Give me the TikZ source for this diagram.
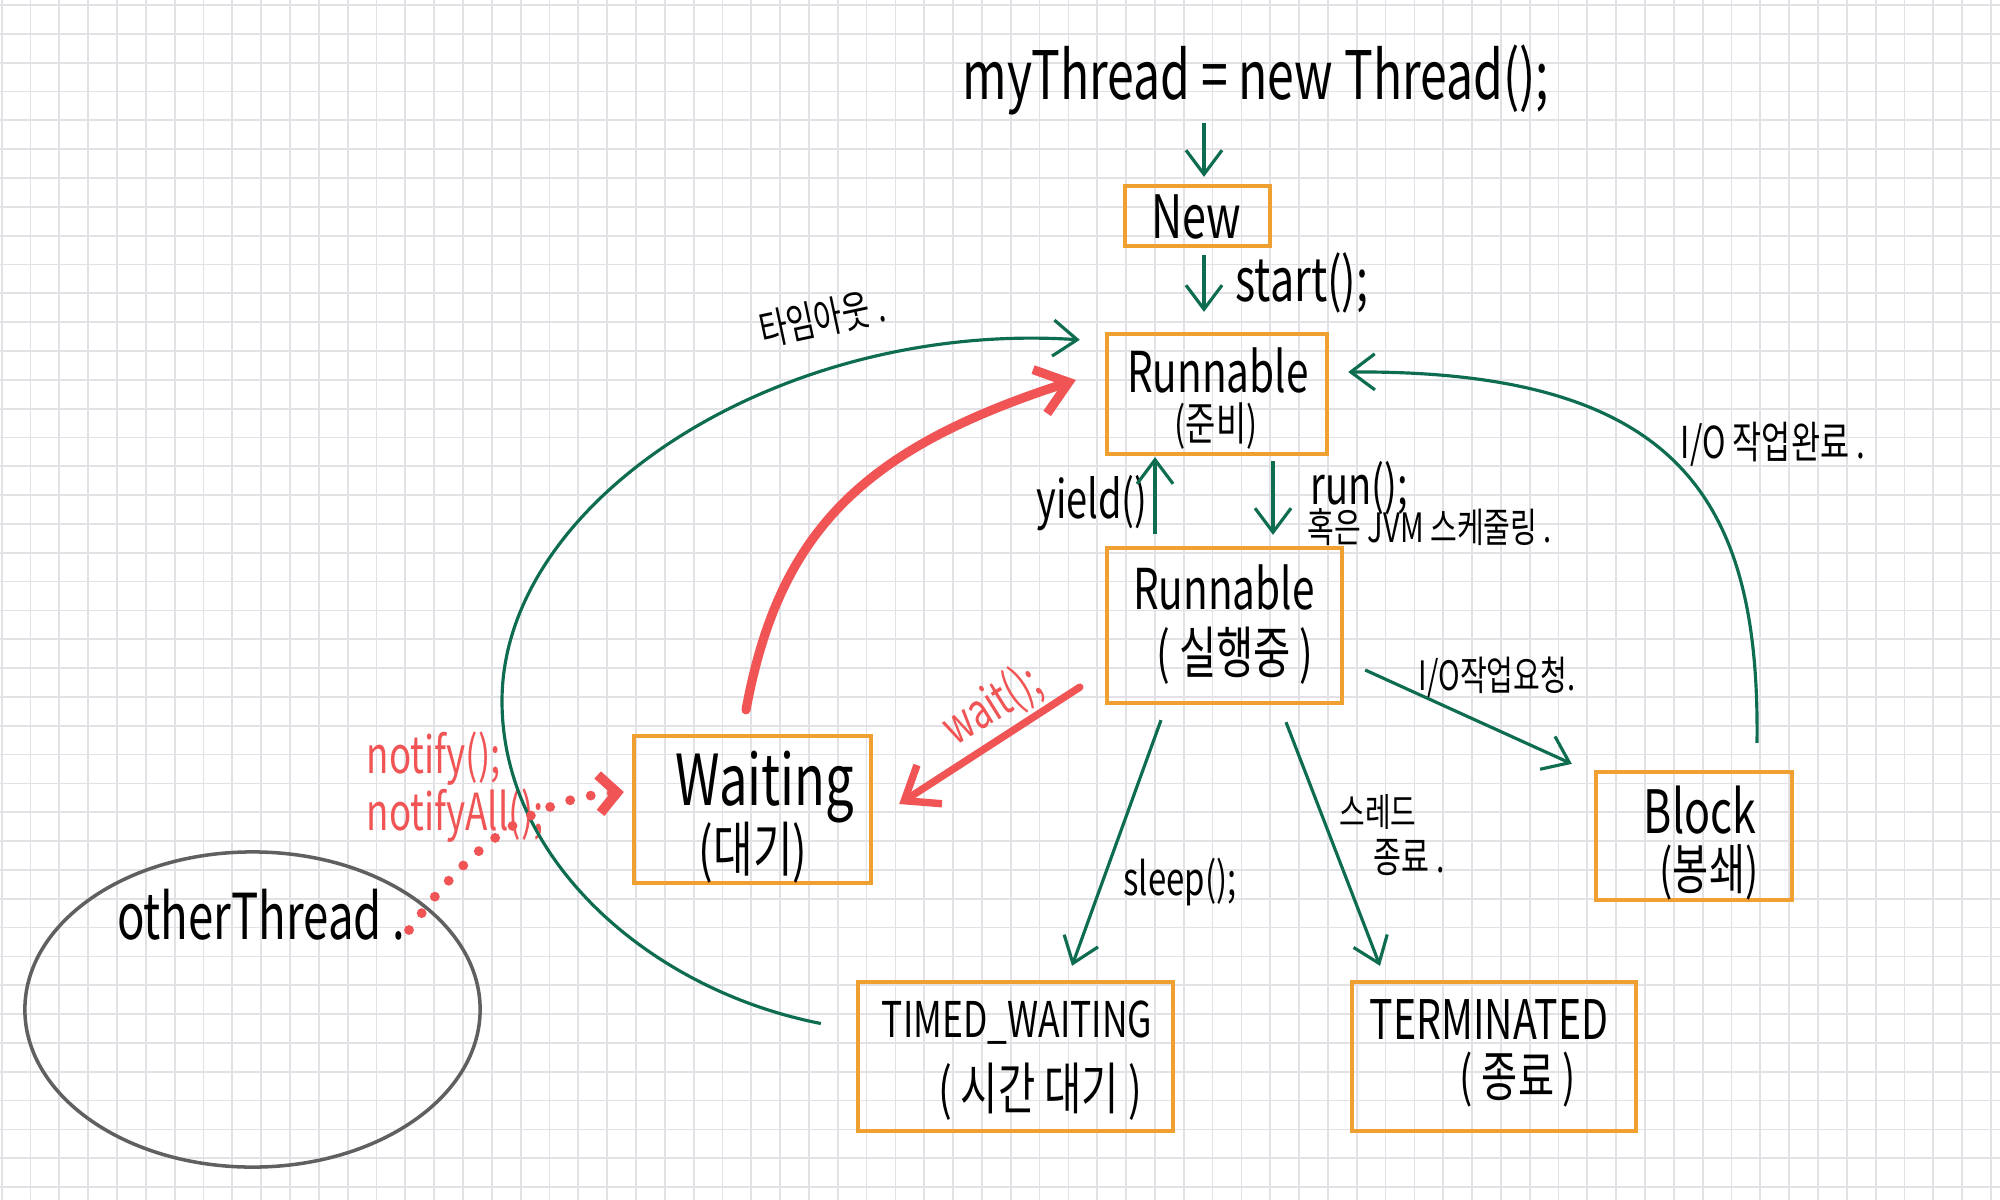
\documentclass[tikz,border=0pt]{standalone}
\usepackage{fontspec}
\setmainfont{Noto Sans CJK KR}[FakeStretch=0.72]
\usetikzlibrary{arrows.meta,calc,shapes.geometric}
\definecolor{cgreen}{RGB}{14,108,80}
\definecolor{corange}{RGB}{240,160,48}
\definecolor{cred}{RGB}{240,84,84}
\definecolor{cgray}{RGB}{96,96,96}
\definecolor{cgrid}{RGB}{226,226,230}
\newcommand{\hsz}[1]{\fontsize{#1}{#1}\selectfont}
\begin{document}
\begin{tikzpicture}[x=0.01cm,y=-0.01cm,
  gridline/.style={draw=cgrid,line width=0.5pt},
  statebox/.style={draw=corange,line width=1.2pt,inner sep=0pt,rectangle},
  lbl/.style={inner sep=0pt,text=black},
  garrow/.style={draw=cgreen,line width=0.9pt,-{Straight Barb[length=2.4mm,width=3.6mm]}},
  rthick/.style={draw=cred,line width=2.6pt,line cap=round,-{Straight Barb[length=3mm,width=4.6mm]}},
  rdotted/.style={draw=cred,line width=2.8pt,line cap=round,dash pattern=on 0pt off 6pt,-{Straight Barb[length=1.8mm,width=3.8mm]}},
]
\useasboundingbox (0,0) rectangle (2000,1200);
\fill[white] (0,0) rectangle (2000,1200);
\foreach \k in {0,...,69} \draw[gridline] ({1.7+28.83*\k},0) -- ({1.7+28.83*\k},1200);
\foreach \k in {0,...,41} \draw[gridline] (0,{5+28.83*\k}) -- (2000,{5+28.83*\k});

% title
\node[lbl,font=\hsz{19}] (title) at (1256,80) {myThread = new Thread();};

% state boxes
\node[statebox,minimum width=1.45cm,minimum height=0.60cm] (New) at (1197.5,216) {};
\node[statebox,minimum width=2.20cm,minimum height=1.20cm] (R1) at (1217,394) {};
\node[statebox,minimum width=2.35cm,minimum height=1.55cm] (R2) at (1224.5,625.5) {};
\node[statebox,minimum width=1.96cm,minimum height=1.28cm] (Block) at (1694,836) {};
\node[statebox,minimum width=2.37cm,minimum height=1.47cm] (W) at (752.5,809.5) {};
\node[statebox,minimum width=3.15cm,minimum height=1.49cm] (TW) at (1015.5,1056.5) {};
\node[statebox,minimum width=2.84cm,minimum height=1.49cm] (TERM) at (1494,1056.5) {};
\node[draw=cgray,line width=1pt,ellipse,minimum width=4.55cm,minimum height=3.15cm,inner sep=0pt] (OT) at (252.5,1009.5) {};

% box texts
\node[lbl,font=\hsz{17}] (Newt) at (1196,217) {New};
\node[lbl,font=\hsz{16}] (R1a) at (1218,370) {Runnable};
\node[lbl,font=\hsz{13}] (R1b) at (1216,426) {(준비)};
\node[lbl,font=\hsz{16}] (R2a) at (1224,587) {Runnable};
\node[lbl,font=\hsz{16}] (R2b) at (1235,656) {( 실행중 )};
\node[lbl,font=\hsz{17}] (Ba) at (1700,810) {Block};
\node[lbl,font=\hsz{15.5}] (Bb) at (1709,872) {(봉쇄)};
\node[lbl,font=\hsz{20}] (Wa) at (765,787) {Waiting};
\node[lbl,font=\hsz{17}] (Wb) at (753,853) {(대기)};
\node[lbl,font=\hsz{14}] (TWa) at (1017,1023) {TIMED\_WAITING};
\node[lbl,font=\hsz{16}] (TWb) at (1040,1092) {( 시간 대기 )};
\node[lbl,font=\hsz{15.5}] (TEa) at (1489,1020) {TERMINATED};
\node[lbl,font=\hsz{15.5}] (TEb) at (1518,1080) {( 종료 )};
\node[lbl,font=\hsz{18}] (OTt) at (261,915) {otherThread .};

% edge labels
\node[lbl,font=\hsz{17},anchor=west] (lstart) at (1235,283) {start();};
\node[lbl,font=\hsz{15}] (lyield) at (1092,503) {yield()};
\node[lbl,font=\hsz{15},anchor=west] (lrun1) at (1310,488) {run();};
\node[lbl,font=\hsz{11.5},anchor=west] (lrun2) at (1307,527) {혹은 JVM 스케줄링 .};
\node[lbl,font=\hsz{11.5}] (lioreq) at (1497,677) {I/O작업요청.};
\node[lbl,font=\hsz{12.5}] (liodone) at (1773,444) {I/O 작업완료 .};
\node[lbl,font=\hsz{13}] (lsleep) at (1180,882) {sleep();};
\node[lbl,font=\hsz{11}] (lend1) at (1378,812) {스레드};
\node[lbl,font=\hsz{12}] (lend2) at (1409,858) {종료 .};
\node[lbl,font=\hsz{12},rotate=12] (ltimeout) at (822,318) {타임아웃 .};
\node[lbl,font=\hsz{14},rotate=32,text=cred] (lwait) at (992,706) {wait();};
\node[lbl,font=\fontsize{14.5}{13.5}\selectfont,anchor=west,align=left,text=cred] (lnotify) at (366,787) {notify();\\notifyAll();};

% green connectors
\draw[garrow] ($(title.south -| New.north)+(6.5,7)$) -- ($(New.north)+(6.5,-7)$);
\draw[garrow] ($(New.south)+(6.5,7)$) -- ($(R1.north)+(-13,-20)$);
\draw[garrow] ($(R2.north)+(-69.5,-12)$) -- ($(R1.south)+(-62,1)$);
\draw[garrow] ($(R1.south)+(56,5)$) -- ($(R2.north)+(48.5,-11)$);
\draw[garrow] ($(R2.east)+(21,44.5)$) -- ($(Block.north west)+(-22,-6)$);
\draw[garrow] ($(Block.north)+(63,-27)$) .. controls (1760,500) and (1680,370) .. ($(R1.east)+(19,-22)$);
\draw[garrow] ($(R2.south)+(-63.5,15)$) -- ($(TW.north)+(56.5,-14)$);
\draw[garrow] ($(R2.south)+(61.5,17)$) -- ($(TERM.north)+(-114,-14)$);
\coordinate (tleft) at (502,701);
\draw[garrow] ($(TW.west)+(-35,-33)$) .. controls (650,990) and (502,860) .. (tleft) .. controls (502,500) and (780,320) .. ($(R1.north west)+(-25,8)$);

% red connectors
\draw[rthick] ($(W.north)+(-6.5,-24)$) .. controls (779,532) and (862,449) .. ($(R1.west)+(-29,-14)$);
\draw[rthick,line width=2.1pt] ($(R2.south west)+(-25,-18)$) -- ($(W.east)+(26,-5.5)$);
\coordinate (nstart) at (409,930);
\draw[rdotted] (nstart) .. controls (460,860) and (520,800) .. ($(W.west)+(-8,-17.5)$);
\end{tikzpicture}
\end{document}
